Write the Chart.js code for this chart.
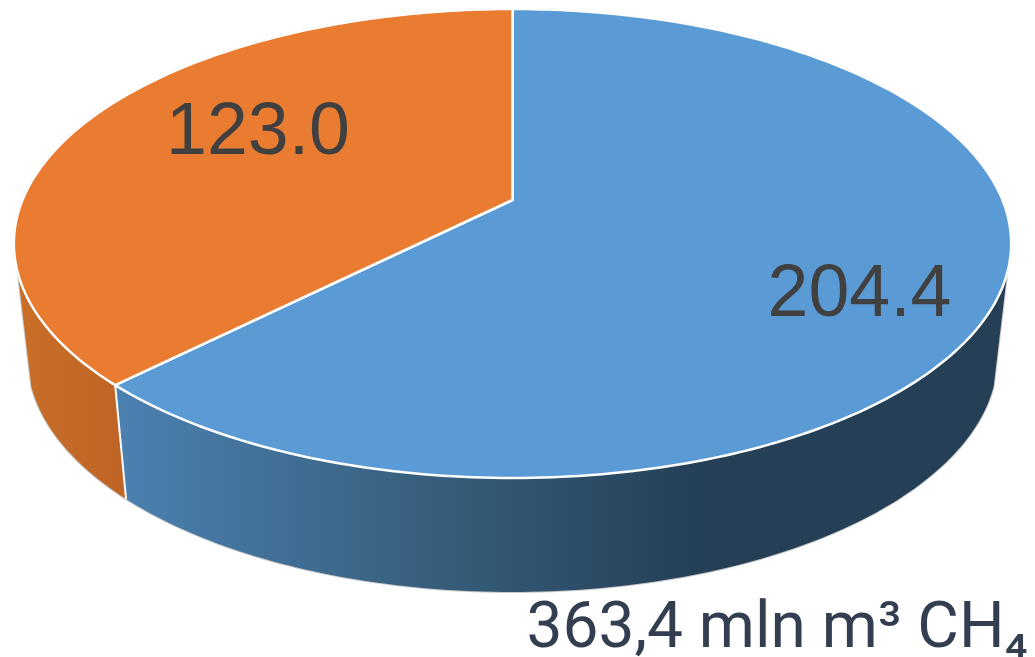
<!DOCTYPE html>
<html>
<head>
<meta charset="utf-8">
<script src="https://cdn.jsdelivr.net/npm/chart.js@4"></script>
<style>
body { margin: 0; background: #fff; }
canvas { display: block; }
</style>
</head>
<body>
<canvas id="pie" width="1035" height="657"></canvas>
<script>
const categories = ["A", "B"];
const values = [204.4, 123.0];
const sliceColors = ["#5b9bd5", "#ea7c32"];
const titleText = "363,4 mln m³ CH₄";

// perspective of the disc, top face and bottom face
const CX = 512.5, K = 0.1855;
const TOP = { r: 490, y: 200, h: 226.4 };
const BOTTOM = { r: 476.6, y: 313.4, h: 226.9 };
const labelPos = [[859.5, 296], [258, 134]];
const HORIZON = 0.304; // sin(angle) where the side wall starts to show

function project(face, a) {
  const w = 1 - K * Math.sin(a);
  return [CX + face.r * Math.cos(a) / w, face.y + face.h * Math.sin(a) / w];
}

function rim(ctx, face, from, to, first) {
  const n = Math.max(2, Math.ceil(Math.abs(to - from) * 60));
  for (let i = 0; i <= n; i++) {
    const p = project(face, from + (to - from) * i / n);
    if (i === 0 && first) ctx.moveTo(p[0], p[1]);
    else ctx.lineTo(p[0], p[1]);
  }
}

function wallFill(ctx, index) {
  const g = ctx.createLinearGradient(index === 0 ? 115 : 18, 0, index === 0 ? 1010 : 127, 0);
  if (index === 0) {
    g.addColorStop(0, "#4c81b2");
    g.addColorStop(0.33, "#38617f");
    g.addColorStop(0.66, "#243f56");
    g.addColorStop(1, "#243f56");
  } else {
    g.addColorStop(0, "#c96f29");
    g.addColorStop(1, "#bf6425");
  }
  return g;
}

const disc3d = {
  id: "disc3d",
  beforeDatasetsDraw(chart) {
    const ctx = chart.ctx;
    const arcs = chart.getDatasetMeta(0).data;
    const wallMin = Math.asin(HORIZON), wallMax = Math.PI - wallMin;
    ctx.save();
    ctx.lineJoin = "round";

    // outer hairline
    ctx.beginPath();
    rim(ctx, BOTTOM, wallMin, wallMax, true);
    rim(ctx, TOP, wallMax, wallMin + Math.PI * 2, false);
    ctx.closePath();
    ctx.strokeStyle = "#c8c8c8";
    ctx.lineWidth = 2;
    ctx.stroke();

    // side walls
    arcs.forEach((arc, i) => {
      const from = Math.max(arc.startAngle, wallMin);
      const to = Math.min(arc.endAngle, wallMax);
      if (to <= from) return;
      ctx.beginPath();
      rim(ctx, TOP, from, to, true);
      rim(ctx, BOTTOM, to, from, false);
      ctx.closePath();
      ctx.fillStyle = wallFill(ctx, i);
      ctx.fill();
    });
    // edge between the two walls
    const split = arcs[0].endAngle;
    const a = project(TOP, split), b = project(BOTTOM, split);
    ctx.beginPath();
    ctx.moveTo(a[0], a[1]);
    ctx.lineTo(b[0], b[1]);
    ctx.strokeStyle = "#fff";
    ctx.lineWidth = 2;
    ctx.stroke();

    // top face
    arcs.forEach((arc) => {
      ctx.beginPath();
      ctx.moveTo(CX, TOP.y);
      rim(ctx, TOP, arc.startAngle, arc.endAngle, false);
      ctx.closePath();
      ctx.fillStyle = arc.options.backgroundColor;
      ctx.fill();
      ctx.strokeStyle = "#fff";
      ctx.lineWidth = 2.5;
      ctx.stroke();
    });

    // value labels
    ctx.font = "73.5px 'Liberation Sans'";
    ctx.fillStyle = "#404040";
    ctx.textAlign = "center";
    ctx.textBaseline = "middle";
    values.forEach((v, i) => {
      ctx.fillText(v.toFixed(1), labelPos[i][0], labelPos[i][1]);
    });
    ctx.restore();
    return false;
  }
};

new Chart(document.getElementById("pie"), {
  type: "pie",
  data: {
    labels: categories,
    datasets: [{ data: values, backgroundColor: sliceColors }]
  },
  options: {
    responsive: false,
    animation: false,
    layout: { padding: { right: 7, bottom: 0 } },
    plugins: {
      legend: { display: false },
      tooltip: { enabled: false },
      title: {
        display: true,
        position: "bottom",
        align: "end",
        text: titleText,
        color: "#333f50",
        font: { family: "Roboto", size: 64, weight: "normal", lineHeight: 1 },
        padding: { top: 0, bottom: -6 }
      }
    }
  },
  plugins: [disc3d]
});
</script>
</body>
</html>
